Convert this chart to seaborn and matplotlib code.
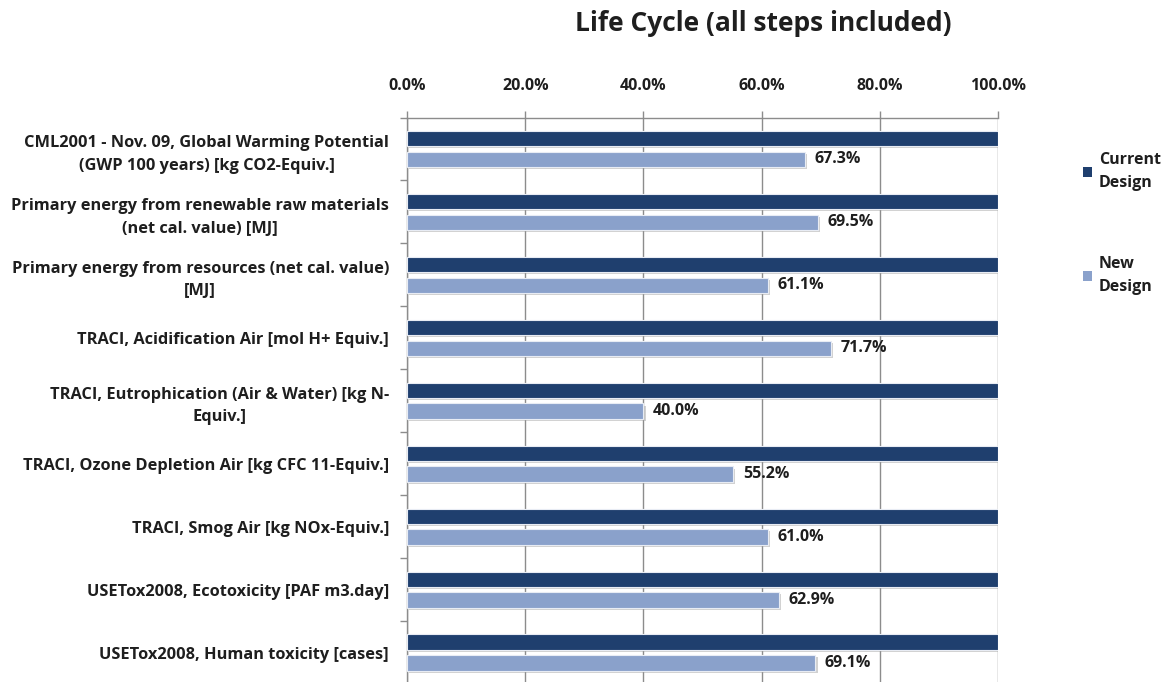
import seaborn as sns
import matplotlib.pyplot as plt
import matplotlib.patheffects as pe
import pandas as pd

# Данные графика
categories = [
    "CML2001 - Nov. 09, Global Warming Potential\n(GWP 100 years) [kg CO2-Equiv.]",
    "Primary energy from renewable raw materials\n(net cal. value) [MJ]",
    "Primary energy from resources (net cal. value)\n[MJ]",
    "TRACI, Acidification Air [mol H+ Equiv.]",
    "TRACI, Eutrophication (Air & Water) [kg N-\nEquiv.]",
    "TRACI, Ozone Depletion Air [kg CFC 11-Equiv.]",
    "TRACI, Smog Air [kg NOx-Equiv.]",
    "USETox2008, Ecotoxicity [PAF m3.day]",
    "USETox2008, Human toxicity [cases]",
]
current_design = [100.0, 100.0, 100.0, 100.0, 100.0, 100.0, 100.0, 100.0, 100.0]
new_design = [67.3, 69.5, 61.1, 71.7, 40.0, 55.2, 61.0, 62.9, 69.1]
series_names = ["Current\nDesign", "New\nDesign"]
x_ticks = [0, 20, 40, 60, 80, 100]

df = pd.DataFrame({
    "category": categories * 2,
    "value": current_design + new_design,
    "series": [series_names[0]] * len(categories) + [series_names[1]] * len(categories),
})

sns.set_style("white")
plt.rcParams['font.family'] = ['Open Sans', 'DejaVu Sans']
txt = '#1e1e1e'

fig = plt.figure(figsize=(11.71, 6.82), dpi=100)
ax = fig.add_axes([0.3476, -0.003, 0.5047, 0.8307])

palette = {series_names[0]: '#1f3f6e', series_names[1]: '#8aa1cb'}
sns.barplot(data=df, y="category", x="value", hue="series", orient="h",
            palette=palette, width=0.66, gap=0.26, ax=ax,
            edgecolor='#e8ecf4', linewidth=0.8, saturation=1, zorder=3)

# Тень под столбцами
for bar in ax.patches:
    bar.set_path_effects([pe.SimplePatchShadow(offset=(1.5, -1.5), shadow_rgbFace='#9a9a9a', alpha=0.45),
                          pe.Normal()])

# Подписи значений для новой конструкции
n = len(categories)
for bar, v in zip(ax.patches[n:2 * n], new_design):
    ax.text(v + 1.6, bar.get_y() + bar.get_height() / 2, f"{v:.1f}%",
            va='center', ha='left', fontsize=11.5, fontweight='bold', color=txt, zorder=4)

ax.set_xlim(0, 100)
ax.set_ylim(n - 0.5, -0.5)
ax.xaxis.tick_top()
ax.set_xticks(x_ticks)
ax.set_xticklabels([f"{t:.1f}%" for t in x_ticks], fontsize=11.5, fontweight='bold', color=txt)
ax.tick_params(axis='x', length=5, width=1, color='#8c8c8c', pad=12, top=True, bottom=False)
ax.grid(axis='x', color='#8c8c8c', linewidth=1, zorder=0)
ax.set_axisbelow(True)

ax.set_yticks(range(n))
ax.set_yticklabels(categories, fontsize=11.8, fontweight='bold', color=txt,
                   linespacing=1.55, multialignment='center')
ax.tick_params(axis='y', which='major', length=0, pad=13)
ax.set_yticks([i + 0.5 for i in range(-1, n)], minor=True)
ax.tick_params(axis='y', which='minor', length=5, width=1, color='#8c8c8c', left=True)
ax.set_xlabel('')
ax.set_ylabel('')

for side in ['bottom', 'right']:
    ax.spines[side].set_visible(False)
for side in ['left', 'top']:
    ax.spines[side].set_color('#8c8c8c')
    ax.spines[side].set_linewidth(1)

handles, labels = ax.get_legend_handles_labels()
leg = ax.legend(handles, labels, loc='upper left', bbox_to_anchor=(0.913, 0.798),
                bbox_transform=fig.transFigure, frameon=False,
                handlelength=0.55, handleheight=0.55, handletextpad=0.4,
                labelspacing=4.1, labelcolor=txt, prop={'weight': 'bold', 'size': 11.5})
for h in leg.legend_handles:
    h.set_path_effects([])
    h.set_edgecolor('none')
for t in leg.get_texts():
    t.set_linespacing(1.55)

fig.text(0.652, 0.966, "Life Cycle (all steps included)", ha='center', va='center',
         fontsize=19, fontweight='bold', color=txt)

plt.savefig('out.png', dpi=100)
plt.close()
